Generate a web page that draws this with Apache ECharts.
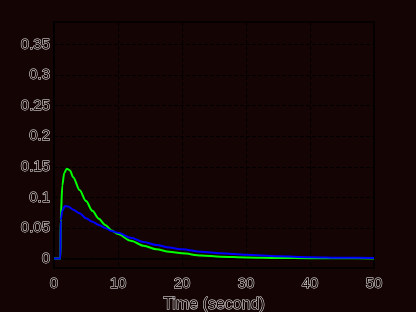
<!DOCTYPE html>
<html><head><meta charset="utf-8">
<script src="https://cdn.jsdelivr.net/npm/echarts@6/dist/echarts.min.js"></script>
<style>html,body{margin:0;padding:0;background:#140404;}#c{width:416px;height:312px;}</style>
</head><body><div id="c"></div>
<script>
const greenT = [0, 1, 1.05, 1.3, 1.6, 2, 2.5, 3, 4, 5, 6, 7, 8, 9, 10, 12, 14, 16, 18, 20, 23, 26, 30, 35, 40, 45, 50];
const greenV = [0, 0, 0.065, 0.12, 0.14, 0.147, 0.144, 0.133, 0.112, 0.094, 0.078, 0.065, 0.055, 0.046, 0.040, 0.029, 0.021, 0.015, 0.011, 0.0085, 0.005, 0.003, 0.0018, 0.001, 0.0005, 0.0003, 0.0002];
const blueT = [0, 1, 1.05, 1.3, 1.7, 2.2, 3, 4, 5, 6, 7, 8, 9, 10, 12, 14, 16, 18, 20, 23, 26, 30, 35, 40, 45, 50];
const blueV = [0, 0, 0.063, 0.078, 0.086, 0.085, 0.080, 0.074, 0.066, 0.060, 0.055, 0.050, 0.045, 0.042, 0.034, 0.027, 0.022, 0.018, 0.015, 0.011, 0.0085, 0.0062, 0.0038, 0.0022, 0.0012, 0.0008];
const yTicks = [0, 0.05, 0.1, 0.15, 0.2, 0.25, 0.3, 0.35];
const yTickLabels = ['0', '0.05', '0.1', '0.15', '0.2', '0.25', '0.3', '0.35'];
const xLabel = 'Time (second)';

const zip = (t, v) => t.map((x, i) => [x, v[i]]);
const textStyle = { color: '#140404', textBorderColor: '#f2f2f2', textBorderWidth: 1, fontFamily: 'Liberation Sans', fontSize: 15 };
const chart = echarts.init(document.getElementById('c'), null, { renderer: 'canvas' });
chart.setOption({
  backgroundColor: '#140404',
  animation: false,
  grid: { left: 54, right: 42, top: 22, bottom: 44, outerBoundsMode: 'none', containLabel: false, show: true, borderColor: '#000', borderWidth: 1.5, backgroundColor: 'transparent' },
  xAxis: {
    type: 'value', min: 0, max: 50, interval: 10,
    name: xLabel, nameLocation: 'middle', nameGap: 25,
    nameTextStyle: Object.assign({}, textStyle, { fontSize: 16 }),
    axisLine: { show: true, lineStyle: { color: '#000', width: 1.5 } },
    axisTick: { show: true, inside: true, length: 4, lineStyle: { color: '#000' } },
    axisLabel: Object.assign({ margin: 8 }, textStyle),
    splitLine: { show: true, lineStyle: { color: '#000', type: [4, 2], width: 1 } }
  },
  yAxis: {
    type: 'value', min: -0.0155, max: 0.387,
    axisLine: { show: true, lineStyle: { color: '#000', width: 1.5 } },
    axisTick: { show: true, inside: true, length: 4, customValues: yTicks, lineStyle: { color: '#000' } },
    axisLabel: Object.assign({ margin: 4, customValues: yTicks, formatter: v => yTickLabels[yTicks.findIndex(t => Math.abs(t - v) < 1e-9)] ?? '' }, textStyle),
    splitLine: { show: true, lineStyle: { color: '#000', type: [4, 2], width: 1 } }
  },
  series: [
    { type: 'line', data: zip(greenT, greenV), showSymbol: false, smooth: 0.3, smoothMonotone: 'x', lineStyle: { color: '#00ff00', width: 2 }, z: 2 },
    { type: 'line', data: zip(blueT, blueV), showSymbol: false, smooth: 0.3, smoothMonotone: 'x', lineStyle: { color: '#0000ff', width: 2 }, z: 3 }
  ]
});
</script></body></html>
